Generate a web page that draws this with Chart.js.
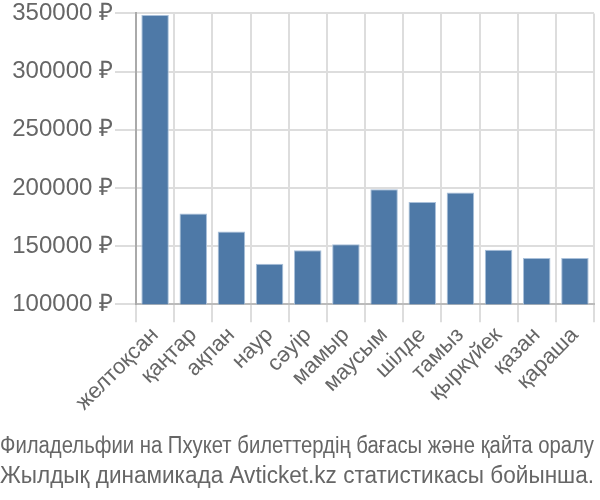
<!DOCTYPE html>
<html>
<head>
<meta charset="utf-8">
<script src="https://cdn.jsdelivr.net/npm/chart.js@4"></script>
<style>
  html, body { margin: 0; padding: 0; background: #fff; }
  #wrap { width: 600px; height: 500px; }
</style>
</head>
<body>
<div id="wrap"><canvas id="chart" width="600" height="500"></canvas></div>
<script>
var months = ['желтоқсан', 'қаңтар', 'ақпан', 'наур', 'сәуір', 'мамыр', 'маусым', 'шілде', 'тамыз', 'қыркүйек', 'қазан', 'қараша'];
var prices = [348600, 177900, 162400, 134800, 146300, 151500, 198900, 187900, 196000, 146900, 139700, 139700];
var yTicks = [100000, 150000, 200000, 250000, 300000, 350000];
var titleLines = [
    'Филадельфии на Пхукет билеттердің бағасы және қайта оралу',
    'Жылдық динамикада Avticket.kz статистикасы бойынша.'
];

Chart.defaults.font.family = '"Liberation Sans", Arial, sans-serif';
Chart.defaults.color = '#666';

new Chart(document.getElementById('chart'), {
    type: 'bar',
    data: {
        labels: months,
        datasets: [{
            data: prices,
            backgroundColor: '#4e79a7',
            borderColor: '#a9c0da',
            borderWidth: 1,
            categoryPercentage: 0.72,
            barPercentage: 1
        }]
    },
    options: {
        responsive: false,
        animation: false,
        layout: { padding: { top: 0, right: 6, left: 0, bottom: 0 } },
        plugins: {
            legend: { display: false },
            tooltip: { enabled: false },
            title: {
                display: true,
                position: 'bottom',
                text: titleLines,
                color: '#666',
                font: { size: 23, weight: 'normal', lineHeight: 1.3 },
                padding: { top: 12, bottom: 8 }
            }
        },
        scales: {
            x: {
                grid: { color: '#ddd', lineWidth: 2, tickLength: 18, offset: true },
                border: { color: '#bbb', width: 2 },
                ticks: { font: { size: 22 }, autoSkip: false, maxRotation: 45, minRotation: 45, padding: 0, color: '#666' },
                afterFit: function(axis) { axis.height = 116; }
            },
            y: {
                min: yTicks[0],
                max: yTicks[yTicks.length - 1],
                afterBuildTicks: function(axis) {
                    axis.ticks = yTicks.map(function(v) { return { value: v }; });
                },
                grid: { color: '#ddd', lineWidth: 2, tickLength: 21 },
                border: { color: '#aaa', width: 2 },
                ticks: {
                    font: { size: 24, lineHeight: 0.95 },
                    color: '#666',
                    padding: 2,
                    callback: function(value) { return value + ' ₽'; }
                },
                afterFit: function(axis) { axis.width = 136; }
            }
        }
    }
});
</script>
</body>
</html>
